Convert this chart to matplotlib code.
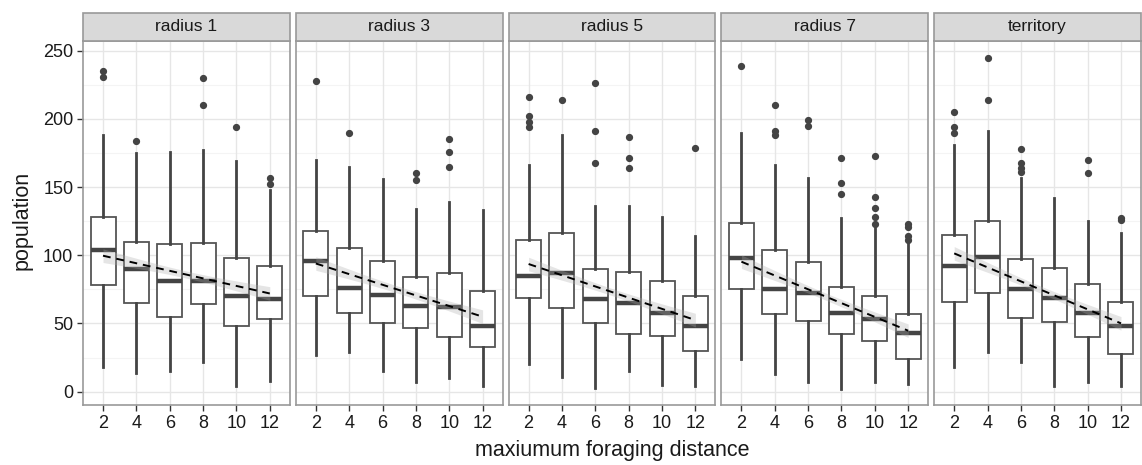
import matplotlib
matplotlib.use("Agg")
import matplotlib.pyplot as plt
import numpy as np
from matplotlib.patches import Rectangle

plt.rcParams['font.family'] = ['Liberation Sans', 'DejaVu Sans']

panels = ["radius 1", "radius 3", "radius 5", "radius 7", "territory"]
distances = [2, 4, 6, 8, 10, 12]

# per panel: lists over distances
whis_hi = [
    [188, 175, 176, 177, 169, 148],
    [170, 165, 156, 134, 139, 133],
    [166, 188, 136, 136, 128, 114],
    [190, 166, 157, 127, 120, 113],
    [181, 191, 157, 142, 125, 116],
]
q3 = [
    [128, 110, 108, 109, 98, 92],
    [118, 105, 96, 84, 87, 74],
    [111, 116, 90, 88, 81, 70],
    [124, 104, 95, 77, 70, 57],
    [115, 125, 97, 91, 79, 66],
]
median = [
    [104, 90, 81, 81, 70, 68],
    [96, 76, 71, 63, 62, 48],
    [85, 87, 68, 65, 58, 48],
    [98, 75, 72, 58, 53, 43],
    [92, 99, 75, 69, 58, 48],
]
q1 = [
    [78, 65, 55, 64, 48, 53],
    [70, 58, 50, 47, 40, 33],
    [69, 61, 50, 42, 41, 30],
    [75, 57, 52, 42, 37, 24],
    [66, 72, 54, 51, 40, 28],
]
whis_lo = [
    [18, 14, 15, 22, 4, 8],
    [27, 29, 15, 7, 10, 4],
    [20, 11, 3, 15, 5, 4],
    [24, 13, 7, 2, 7, 6],
    [18, 29, 22, 4, 7, 4],
]
outliers = [
    [[235, 231], [184], [], [230, 210], [194], [157, 152]],
    [[228], [190], [], [160, 155], [185, 176, 165], []],
    [[216, 202, 198, 194], [214], [226, 191, 168], [187, 171, 164], [], [179]],
    [[239], [210, 191, 188], [199, 195], [171, 153, 145], [173, 143, 135, 128, 123], [123, 121, 114, 111]],
    [[205, 194, 190], [245, 214], [178, 168, 164, 161], [], [170, 160], [127, 126]],
]
# linear fit (at distance 2 and 12) and CI half-widths (ends, centre)
fit_start = [99.7, 94.0, 93.6, 95.3, 101.4]
fit_end = [72.0, 55.0, 52.5, 44.7, 50.1]
ci_end = [5.0, 5.0, 5.0, 5.0, 5.0]
ci_mid = [2.6, 2.6, 2.6, 2.6, 2.6]

W, H = 1142, 465
fig = plt.figure(figsize=(W / 100, H / 100), dpi=100)
left, right = 83 / W, 1141 / W
top, bottom = 1 - 41 / H, 1 - 405 / H
gap = 6 / W
pw = (right - left - 4 * gap) / 5

txt_col = "#1a1a1a"
edge = "#444444"
pos = np.arange(1, 7)

for k, name in enumerate(panels):
    ax = fig.add_axes([left + k * (pw + gap), bottom, pw, top - bottom])
    ax.set_xlim(0.4, 6.6)
    ax.set_ylim(-9.75, 257.1)
    # grid
    for y in [25, 75, 125, 175, 225]:
        ax.axhline(y, color="#f4f4f4", lw=0.8, zorder=0)
    for y in [0, 50, 100, 150, 200, 250]:
        ax.axhline(y, color="#e6e6e6", lw=1.0, zorder=0)
    for x in pos:
        ax.axvline(x, color="#e6e6e6", lw=1.0, zorder=0)

    stats = []
    for i in range(6):
        stats.append(dict(med=median[k][i], q1=q1[k][i], q3=q3[k][i],
                          whislo=whis_lo[k][i], whishi=whis_hi[k][i],
                          fliers=outliers[k][i]))
    ax.bxp(stats, positions=pos, widths=0.75, patch_artist=True,
           showcaps=False,
           boxprops=dict(facecolor="white", edgecolor="#555555", lw=1.3),
           medianprops=dict(color="#444444", lw=3.2, solid_capstyle="butt"),
           whiskerprops=dict(color=edge, lw=2.0),
           flierprops=dict(marker="o", markerfacecolor="#444444",
                           markeredgecolor="#444444", markersize=4.2),
           zorder=2)

    # linear fit with confidence band
    xs = np.linspace(1, 6, 60)
    yfit = np.interp(xs, [1, 6], [fit_start[k], fit_end[k]])
    t = (xs - 3.5) / 2.5
    hw = np.sqrt(ci_mid[k] ** 2 + (ci_end[k] ** 2 - ci_mid[k] ** 2) * t ** 2)
    ax.fill_between(xs, yfit - hw, yfit + hw, color="#aaaaaa", alpha=0.3,
                    lw=0, zorder=3)
    ax.plot([1, 6], [fit_start[k], fit_end[k]], color="black", lw=1.4,
            ls=(0, (4, 3)), zorder=4)

    ax.set_xticks(pos)
    ax.set_xticklabels([str(d) for d in distances])
    ax.set_yticks([0, 50, 100, 150, 200, 250])
    if k > 0:
        ax.tick_params(axis="y", left=False, labelleft=False)
    ax.tick_params(axis="both", length=4, width=1, color="#333333",
                   labelsize=13, labelcolor=txt_col, pad=3)
    for s in ax.spines.values():
        s.set_color("#999999")
        s.set_linewidth(1.2)
    ax.set_axisbelow(True)

    # strip
    sh = 28 / (405 - 41)
    ax.add_patch(Rectangle((0, 1), 1, sh, transform=ax.transAxes,
                           facecolor="#d9d9d9", edgecolor="#999999",
                           lw=1.2, clip_on=False, zorder=5))
    ax.text(0.5, 1 + sh / 2, name, transform=ax.transAxes, ha="center",
            va="center", fontsize=12.5, color=txt_col, zorder=6)

fig.text(22 / W, 1 - 220 / H, "population", rotation=90, ha="center",
         va="center", fontsize=15.5, color=txt_col)
fig.text(612 / W, 1 - 450 / H, "maxiumum foraging distance", ha="center",
         va="center", fontsize=15.5, color=txt_col)

fig.savefig("out.png", dpi=100)
